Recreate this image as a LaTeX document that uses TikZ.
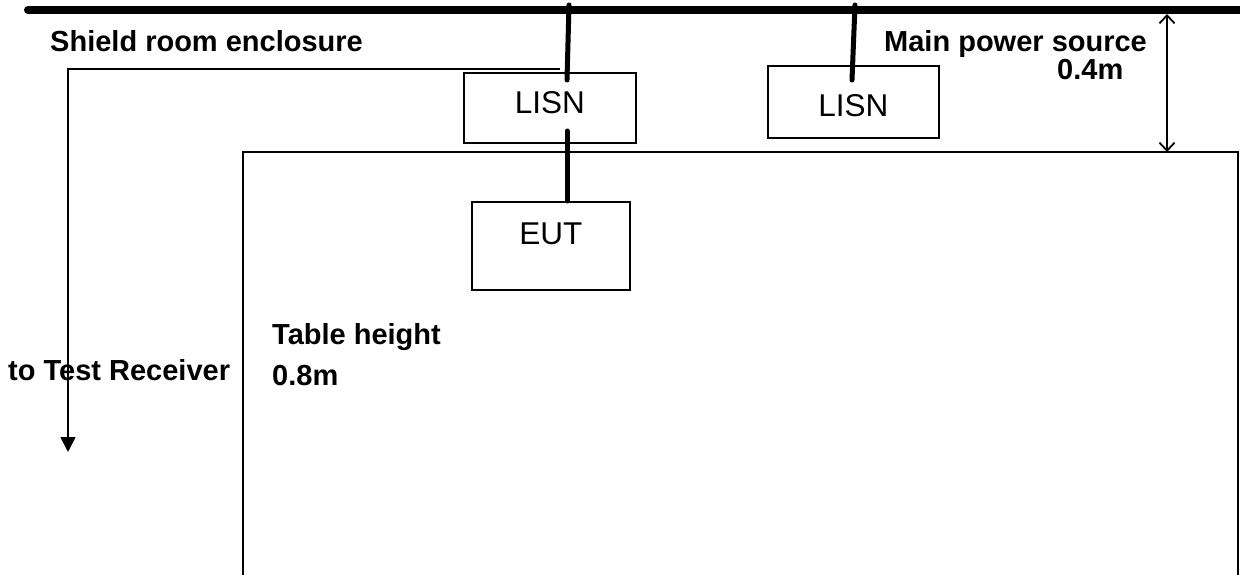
\documentclass[tikz,border=0pt]{standalone}
\usepackage{fontspec}
\setmainfont{Liberation Sans}
\usetikzlibrary{arrows.meta}
\newcommand\lblfont{\fontsize{29}{30}\selectfont\bfseries}
\newcommand\boxfont{\fontsize{31.5}{32}\selectfont}
\tikzset{
  lbl/.style={font=\lblfont, anchor=base west, inner sep=0pt},
  unitbox/.style={draw, line width=1.6pt, font=\boxfont, inner sep=0pt, anchor=north west},
  feed/.style={line width=5pt, line cap=round},
  thin/.style={line width=1.8pt},
  dimtip/.tip={Straight Barb[length=8pt, width=15pt, line width=1.8pt]},
}
\begin{document}
\begin{tikzpicture}[x=1pt, y=-1pt]
\useasboundingbox (0,0) rectangle (1240,575);
% mains bus
\coordinate (busL) at (28,10);
\coordinate (busR) at (1250,10);
\draw[line width=8pt, line cap=round] (busL) -- (busR);
% boxes
\node[unitbox, minimum width=172pt, minimum height=70pt, text height=22pt, text depth=11pt] (lisn1) at (463,72) {LISN};
\node[unitbox, minimum width=171pt, minimum height=72pt, text height=29pt, text depth=0pt] (lisn2) at (767,65) {LISN};
\node[unitbox, minimum width=158pt, minimum height=88pt, text height=22pt, text depth=24pt] (eut) at (471,201) {EUT};
% feed lines
\coordinate (tap1) at (569,5);
\coordinate (in1) at (567,80);
\coordinate (tap2) at (855,5);
\coordinate (in2) at (852,80);
\coordinate (out1) at (567,131);
\draw[feed] (tap1) -- (in1);
\draw[feed] (tap2) -- (in2);
\draw[feed] (out1) -- (out1 |- eut.north);
% table
\coordinate (tblL) at (243,580);
\coordinate (tblTL) at (243,152);
\coordinate (tblTR) at (1238,152);
\coordinate (tblR) at (1238,580);
\draw[thin] (tblL) -- (tblTL) -- (tblTR) -- (tblR);
% cable to receiver
\coordinate (encS) at (560,69);
\coordinate (encC) at (68,69);
\coordinate (rx) at (68,452);
\draw[thin, -{Triangle[length=15pt, width=15pt]}] (encS) -- (encC) -- (rx);
% 0.4 m dimension
\coordinate (dimT) at (1167,14);
\coordinate (dimB) at (1167,152);
\draw[line width=1.6pt, dimtip-dimtip] (dimT) -- (dimB);
% labels
\node[lbl] (shield) at (50,52) {Shield room enclosure};
\node[lbl] (mains) at (884,52) {Main power source};
\node[lbl] (d04) at (1057,80) {0.4m};
\node[lbl] (torx) at (8,380) {to Test Receiver};
\node[lbl] (tblh) at (272,344) {Table height};
\node[lbl] (d08) at (272,385) {0.8m};
\end{tikzpicture}
\end{document}
